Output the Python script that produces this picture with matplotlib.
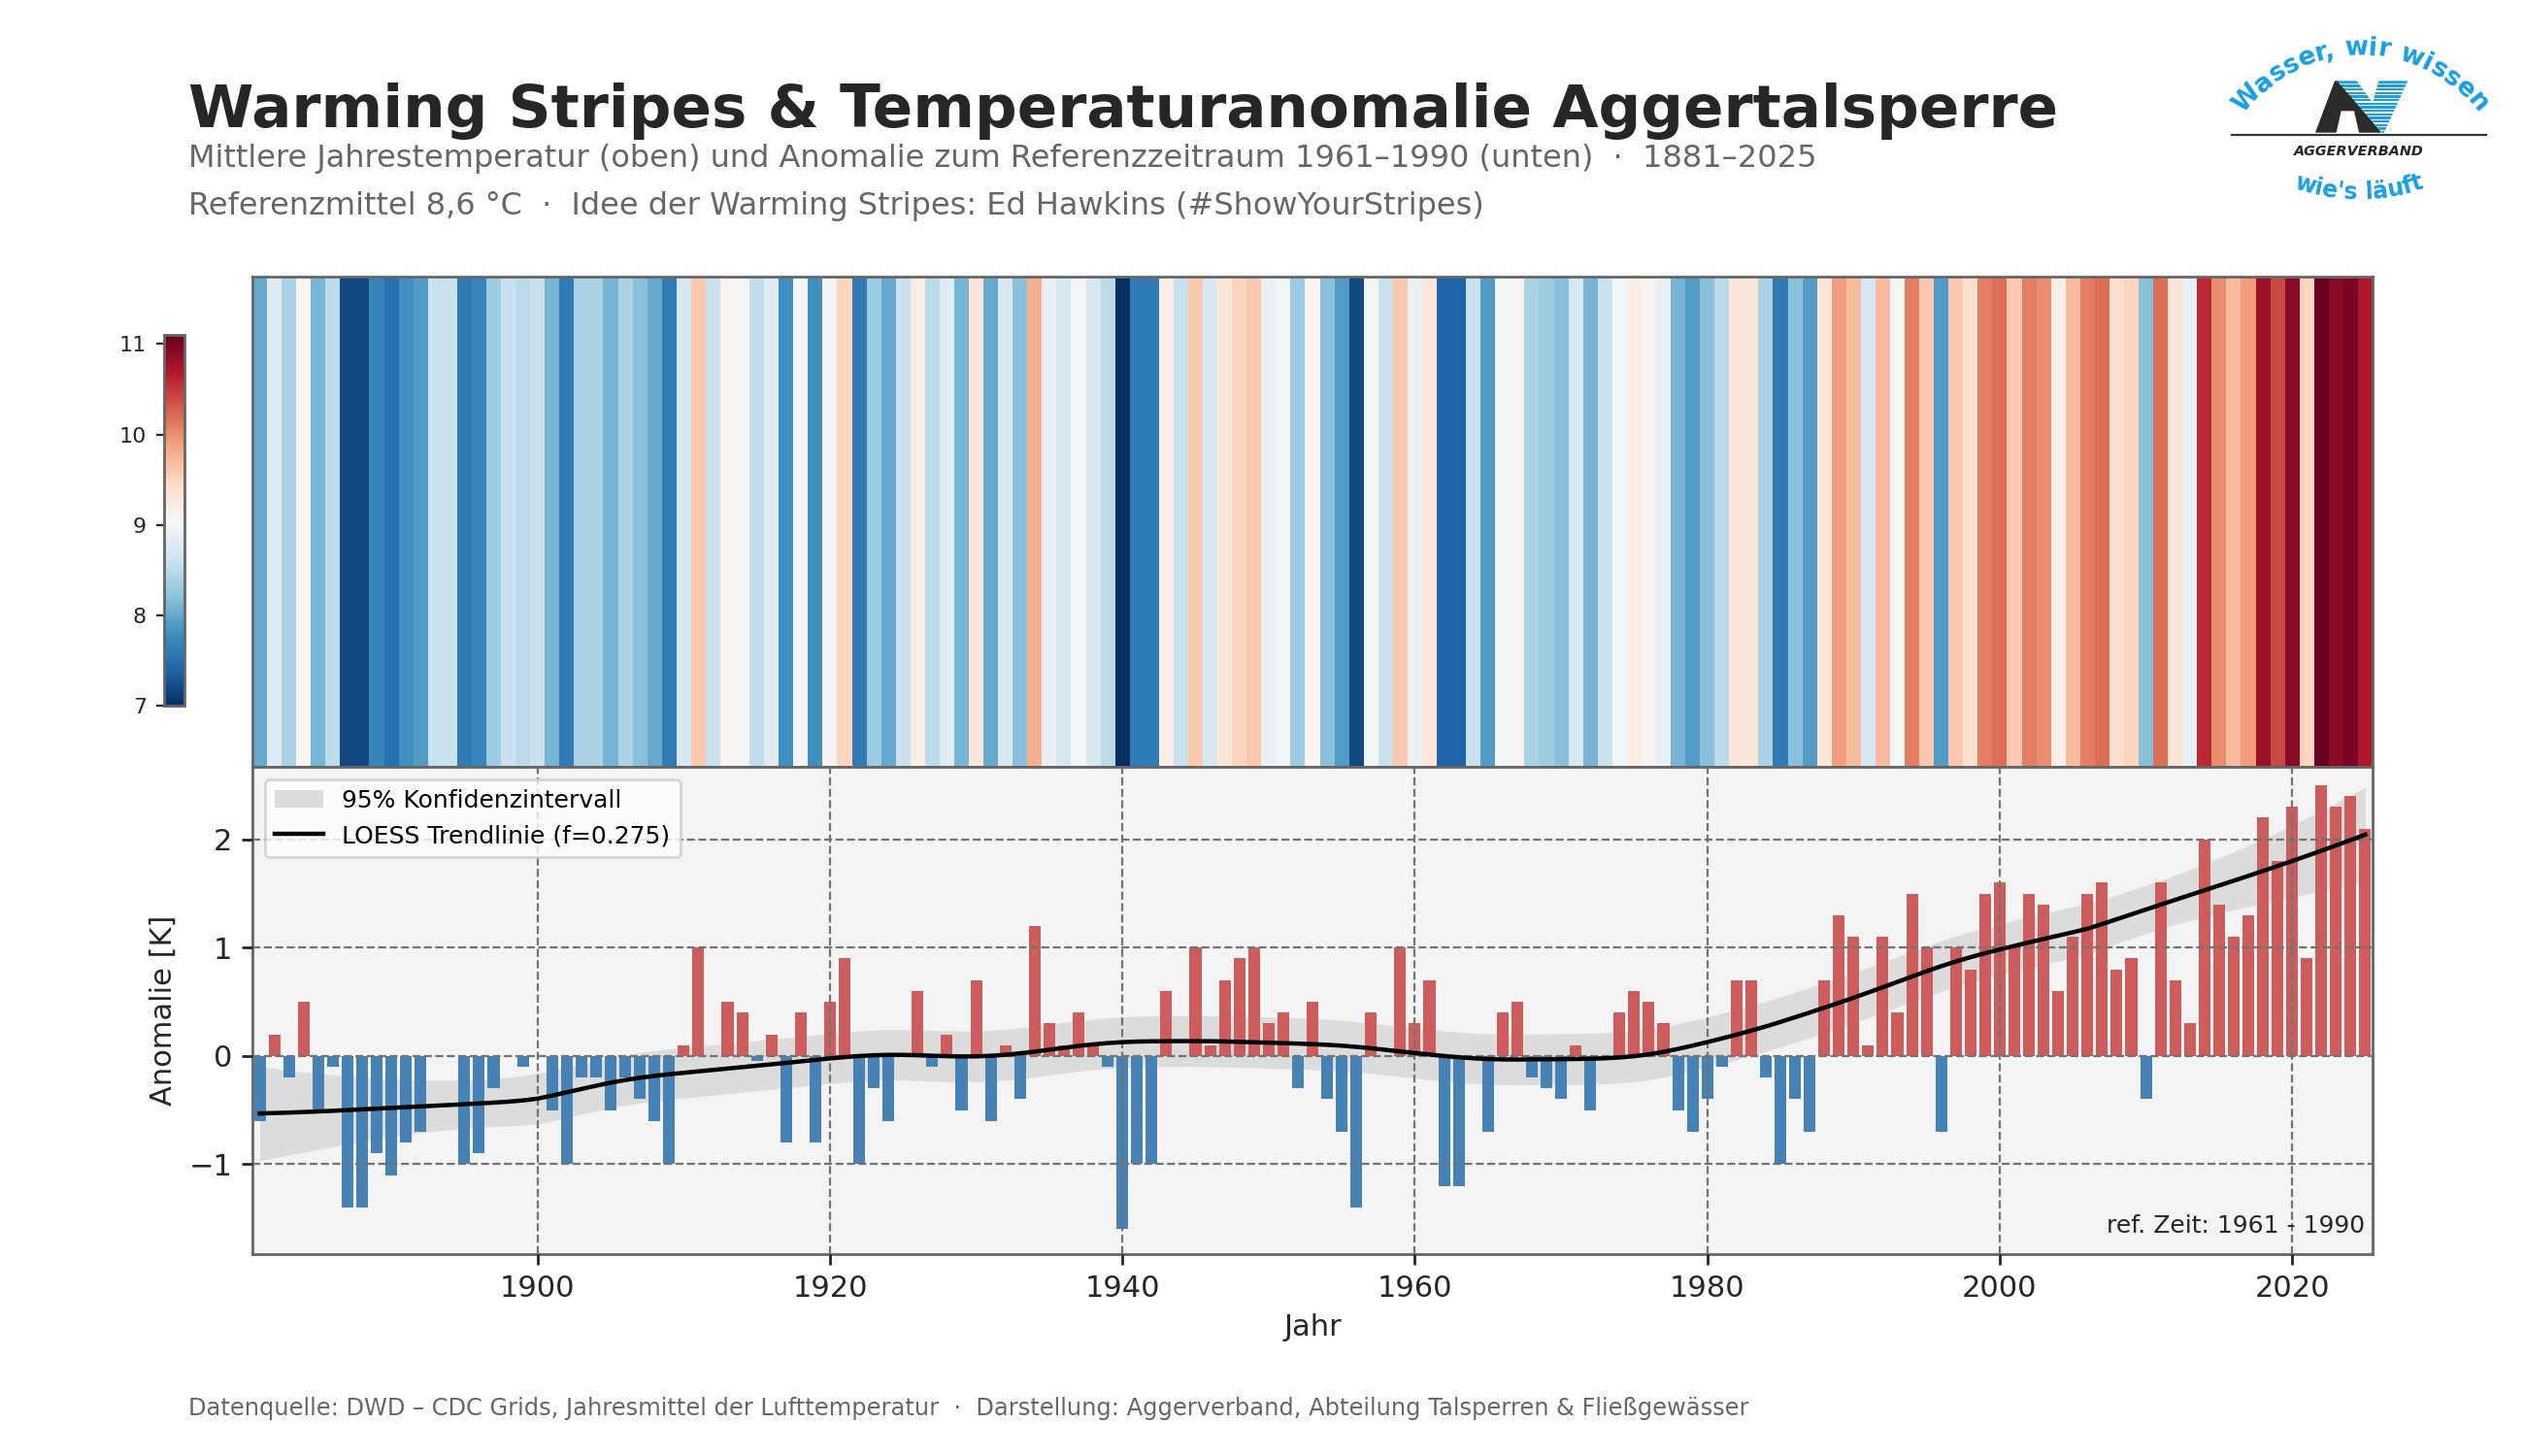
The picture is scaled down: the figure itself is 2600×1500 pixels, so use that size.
import numpy as np
import matplotlib
matplotlib.use("Agg")
import matplotlib.pyplot as plt
from matplotlib.colors import Normalize
from matplotlib.cm import ScalarMappable
from matplotlib.patches import Polygon, Rectangle, Patch
from matplotlib.lines import Line2D
from matplotlib.font_manager import FontProperties
from matplotlib.textpath import TextToPath

# Jahresmittel als Anomalie zu 1961-1990 (Referenzmittel 8,6 °C)
years = np.arange(1881, 2026)
anomaly = np.array([
    -0.6, 0.2, -0.2, 0.5, -0.5, -0.1, -1.4, -1.4, -0.9, -1.1,    # 1881-1890
    -0.8, -0.7, 0.0, 0.0, -1.0, -0.9, -0.3, 0.0, -0.1, 0.0,      # 1891-1900
    -0.5, -1.0, -0.2, -0.2, -0.5, -0.2, -0.4, -0.6, -1.0, 0.1,   # 1901-1910
    1.0, 0.0, 0.5, 0.4, -0.05, 0.2, -0.8, 0.4, -0.8, 0.5,        # 1911-1920
    0.9, -1.0, -0.3, -0.6, 0.0, 0.6, -0.1, 0.2, -0.5, 0.7,       # 1921-1930
    -0.6, 0.1, -0.4, 1.2, 0.3, 0.1, 0.4, 0.1, -0.1, -1.6,        # 1931-1940
    -1.0, -1.0, 0.6, 0.0, 1.0, 0.1, 0.7, 0.9, 1.0, 0.3,          # 1941-1950
    0.4, -0.3, 0.5, -0.4, -0.7, -1.4, 0.4, 0.0, 1.0, 0.3,        # 1951-1960
    0.7, -1.2, -1.2, 0.0, -0.7, 0.4, 0.5, -0.2, -0.3, -0.4,      # 1961-1970
    0.1, -0.5, 0.0, 0.4, 0.6, 0.5, 0.3, -0.5, -0.7, -0.4,        # 1971-1980
    -0.1, 0.7, 0.7, -0.2, -1.0, -0.4, -0.7, 0.7, 1.3, 1.1,       # 1981-1990
    0.1, 1.1, 0.4, 1.5, 1.0, -0.7, 1.0, 0.8, 1.5, 1.6,           # 1991-2000
    1.0, 1.5, 1.4, 0.6, 1.1, 1.5, 1.6, 0.8, 0.9, -0.4,           # 2001-2010
    1.6, 0.7, 0.3, 2.0, 1.4, 1.1, 1.3, 2.2, 1.8, 2.3,            # 2011-2020
    0.9, 2.5, 2.3, 2.4, 2.1,                                     # 2021-2025
])
ref_mean = 8.6
temps = ref_mean + anomaly

xticks = [1900, 1920, 1940, 1960, 1980, 2000, 2020]
yticks = [-1, 0, 1, 2]
cbar_ticks = [7, 8, 9, 10, 11]
loess_frac = 0.275

RED = '#cd5c5c'
BLUE = '#4682b4'
LOGO_BLUE = '#1a9fe0'
DARK = '#262626'
GREY_TXT = '#666666'


def loess(x, y, frac, iters=3):
    # lokal lineare Regression mit Tricube-Gewichten + robuste Iterationen
    n = len(x)
    k = int(np.ceil(frac * n))
    rw = np.ones(n)
    fit = np.zeros(n)
    L = np.zeros((n, n))
    for _ in range(iters + 1):
        for i in range(n):
            d = np.abs(x - x[i])
            h = np.sort(d)[k - 1]
            u = np.clip(d / h, 0, 1)
            w = (1 - u ** 3) ** 3 * rw
            X = np.column_stack([np.ones(n), x - x[i]])
            XtW = X.T * w
            L[i] = np.linalg.solve(XtW @ X, XtW)[0]
            fit[i] = L[i] @ y
        res = y - fit
        s = np.median(np.abs(res))
        u = np.clip(res / (6 * s), -1, 1)
        rw = (1 - u ** 2) ** 2
    return fit, L, y - fit


xf = years.astype(float)
trend, L, res = loess(xf, anomaly, loess_frac)
sigma = np.sqrt(np.sum(res ** 2) / (len(years) - np.trace(L)))
se = sigma * np.sqrt((L ** 2).sum(axis=1))
ci_lo = trend - 1.96 * se
ci_hi = trend + 1.96 * se

fig = plt.figure(figsize=(13, 7.5), dpi=200)

cmap = plt.get_cmap('RdBu_r')
norm = Normalize(vmin=temps.min(), vmax=temps.max())

# --- Warming Stripes ---
ax_s = fig.add_axes([0.1, 0.4733, 0.84, 0.3364])
edges = np.append(years - 0.5, years[-1] + 0.5)
ax_s.pcolormesh(edges, [0, 1], temps[np.newaxis, :], cmap=cmap, norm=norm)
ax_s.set_xlim(1880.5, 2025.5)
ax_s.set_ylim(0, 1)
ax_s.set_xticks([])
ax_s.set_yticks([])
for sp in ax_s.spines.values():
    sp.set_color('0.4')
    sp.set_linewidth(1.0)

cax = fig.add_axes([0.065, 0.5153, 0.0081, 0.2547])
cb = fig.colorbar(ScalarMappable(norm=norm, cmap=cmap), cax=cax, ticks=cbar_ticks)
cax.yaxis.set_ticks_position('left')
cax.tick_params(labelsize=8, length=3, colors=DARK)
cb.outline.set_edgecolor('0.4')
cb.outline.set_linewidth(1.0)

# --- Anomalie-Balken ---
ax_b = fig.add_axes([0.1, 0.1387, 0.84, 0.3346])
ax_b.set_facecolor('#f4f4f4')
ax_b.fill_between(years, ci_lo, ci_hi, color='#dcdcdc', lw=0, zorder=1)
ax_b.bar(years, anomaly, width=0.8, color=np.where(anomaly >= 0, RED, BLUE), zorder=2)
ax_b.plot(years, trend, color='black', lw=1.6, zorder=4)
ax_b.set_axisbelow(False)
ax_b.grid(True, ls='--', lw=0.8, color='0.45')
ax_b.set_xlim(1880.5, 2025.5)
ax_b.set_ylim(-1.83, 2.67)
ax_b.set_xticks(xticks)
ax_b.set_yticks(yticks)
ax_b.tick_params(labelsize=11, length=4, width=1, colors=DARK)
for sp in ax_b.spines.values():
    sp.set_color('0.4')
    sp.set_linewidth(1.0)
ax_b.set_xlabel('Jahr', fontsize=11, color=DARK)
ax_b.set_ylabel('Anomalie [K]', fontsize=11, color=DARK)
ax_b.text(0.9963, 0.044, 'ref. Zeit: 1961 - 1990', transform=ax_b.transAxes,
          ha='right', va='baseline', fontsize=9, color=DARK, zorder=6)

handles = [Patch(facecolor='#dcdcdc', edgecolor='none'),
           Line2D([], [], color='black', lw=1.6)]
leg = ax_b.legend(handles, ['95% Konfidenzintervall', f'LOESS Trendlinie (f={loess_frac})'],
                  loc='upper left', fontsize=9, framealpha=0.8, edgecolor='0.8')
leg.set_zorder(6)

# --- Texte ---
fig.text(0.0748, 0.913, 'Warming Stripes & Temperaturanomalie Aggertalsperre',
         fontsize=22, weight='bold', color=DARK, va='baseline')
fig.text(0.0748, 0.8855,
         'Mittlere Jahrestemperatur (oben) und Anomalie zum Referenzzeitraum 1961–1990 (unten)  ·  1881–2025',
         fontsize=11.5, color=GREY_TXT, va='baseline')
fig.text(0.0748, 0.853,
         'Referenzmittel 8,6 °C  ·  Idee der Warming Stripes: Ed Hawkins (#ShowYourStripes)',
         fontsize=11.5, color=GREY_TXT, va='baseline')
fig.text(0.0748, 0.0282,
         'Datenquelle: DWD – CDC Grids, Jahresmittel der Lufttemperatur  ·  '
         'Darstellung: Aggerverband, Abteilung Talsperren & Fließgewässer',
         fontsize=8.7, color=GREY_TXT, va='baseline')

# --- Logo ---
lax = fig.add_axes([2290 / 2600, 1 - 220 / 1500, 300 / 2600, 200 / 1500])
lax.set_xlim(0, 900)
lax.set_ylim(600, 0)
lax.axis('off')

ttp = TextToPath()
UNITS_PER_PT = 200 / 72 * 3


def arc_text(ax, s, cx, cy, r, size, upper, color):
    fp = FontProperties(family='DejaVu Sans', weight='bold', size=size)
    total = ttp.get_text_width_height_descent(s, fp, ismath=False)[0]
    for i, ch in enumerate(s):
        if ch == ' ':
            continue
        pre = ttp.get_text_width_height_descent(s[:i + 1], fp, ismath=False)[0]
        w = ttp.get_text_width_height_descent(ch, fp, ismath=False)[0]
        th = (pre - w / 2 - total / 2) * UNITS_PER_PT / r
        if upper:
            x, y, rot = cx + r * np.sin(th), cy - r * np.cos(th), -np.degrees(th)
        else:
            x, y, rot = cx + r * np.sin(th), cy + r * np.cos(th), np.degrees(th)
        ax.text(x, y, ch, fontproperties=fp, color=color, rotation=rot,
                rotation_mode='anchor', ha='center', va='baseline')


arc_text(lax, 'Wasser, wir wissen', 425, 560, 450, 9.5, True, LOGO_BLUE)
arc_text(lax, "wie's läuft", 420, -82, 637, 8.5, False, LOGO_BLUE)

a_shape = [(285, 350), (345, 190), (355, 190), (490, 350), (420, 350),
           (405, 283), (365, 283), (350, 350)]
lax.add_patch(Polygon(a_shape, closed=True, fc='#2b2b2b', ec='none'))
v_shape = [(352, 190), (413, 190), (462, 257), (481, 190), (571, 190),
           (497, 351), (493, 351)]
vpoly = Polygon(v_shape, closed=True, fc=LOGO_BLUE, ec='none')
lax.add_patch(vpoly)
for gy in np.arange(198, 350, 11):
    gap = Rectangle((340, gy), 240, 4, fc='white', ec='none')
    lax.add_patch(gap)
    gap.set_clip_path(vpoly)
lax.plot([28, 812], [357, 357], color='#333333', lw=0.8)
lax.text(420, 408, 'AGGERVERBAND', fontsize=5.2, weight='bold', style='italic',
         color=DARK, ha='center', va='center')

fig.savefig('out.png', dpi=200)
